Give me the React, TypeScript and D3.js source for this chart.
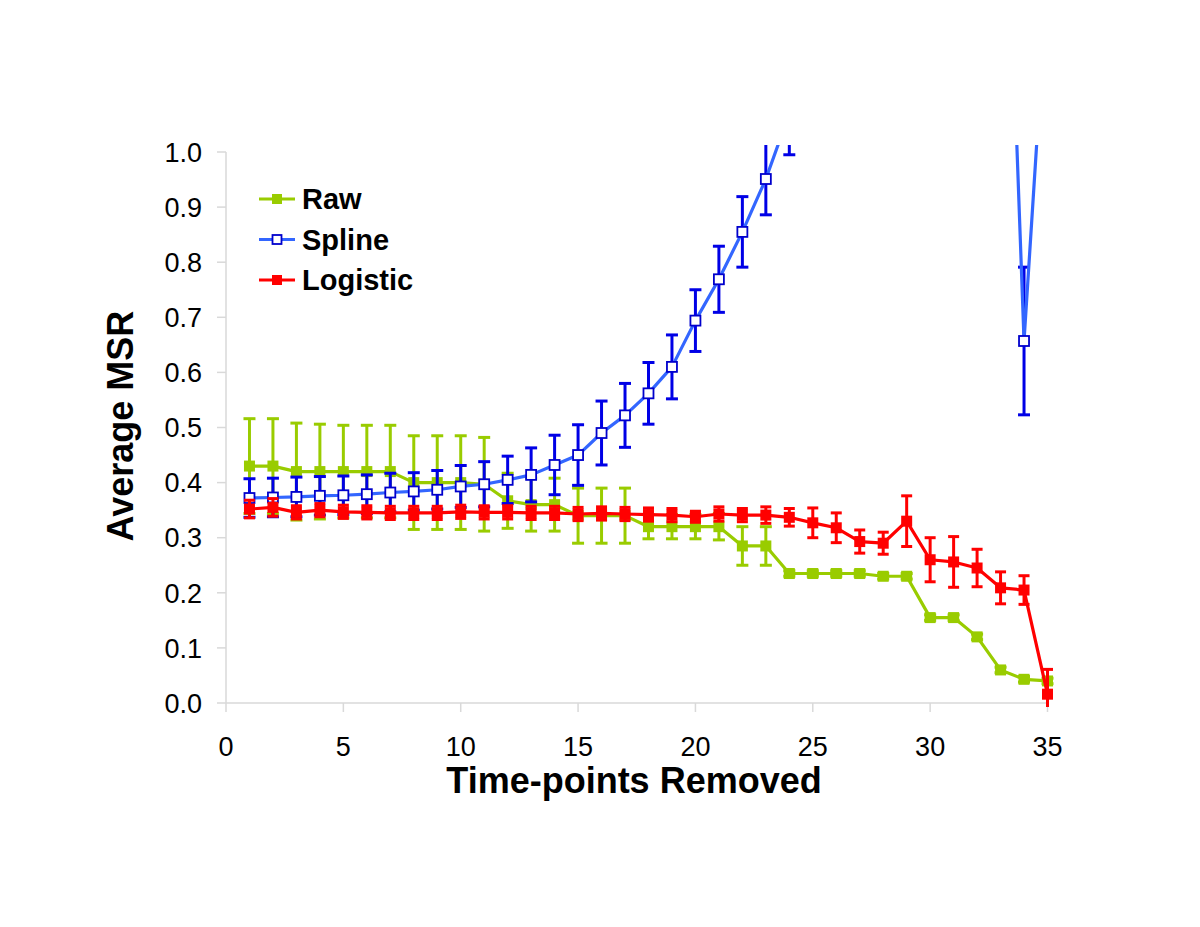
import React from "react";
import * as d3 from "d3";

const xs: number[] = Array.from({ length: 35 }, (_, i) => i + 1);

const rawVals = [0.43, 0.43, 0.42, 0.42, 0.42, 0.42, 0.42, 0.4, 0.4, 0.4, 0.397, 0.367, 0.36, 0.36, 0.34, 0.34, 0.34, 0.32, 0.32, 0.32, 0.32, 0.285, 0.285, 0.235, 0.235, 0.235, 0.235, 0.23, 0.23, 0.155, 0.155, 0.12, 0.06, 0.043, 0.04];
const rawErr = [0.086, 0.086, 0.088, 0.086, 0.084, 0.084, 0.084, 0.085, 0.085, 0.085, 0.085, 0.05, 0.048, 0.048, 0.05, 0.05, 0.05, 0.022, 0.022, 0.022, 0.024, 0.035, 0.035, 0.005, 0.005, 0.005, 0.005, 0.005, 0.005, 0.005, 0.005, 0.005, 0.005, 0.005, 0.005];

const splineVals = [0.372, 0.373, 0.374, 0.376, 0.377, 0.379, 0.382, 0.384, 0.387, 0.393, 0.397, 0.405, 0.414, 0.432, 0.45, 0.49, 0.522, 0.562, 0.61, 0.694, 0.769, 0.855, 0.951, 1.07, 1.25, 1.45, 1.7, 2.0, 2.3, 2.5, 2.3, 2.1, 1.82, 0.657, 1.32];
const splineErr = [0.035, 0.035, 0.036, 0.035, 0.035, 0.035, 0.035, 0.034, 0.035, 0.038, 0.041, 0.043, 0.049, 0.054, 0.055, 0.058, 0.058, 0.056, 0.058, 0.056, 0.06, 0.064, 0.065, 0.075, 0.12, 0.15, 0.2, 0.25, 0.3, 0.3, 0.3, 0.25, 0.2, 0.134, 0.2];

const logisticVals = [0.352, 0.355, 0.346, 0.35, 0.347, 0.346, 0.345, 0.345, 0.345, 0.347, 0.346, 0.346, 0.345, 0.345, 0.343, 0.344, 0.343, 0.342, 0.341, 0.338, 0.343, 0.341, 0.341, 0.337, 0.327, 0.318, 0.293, 0.29, 0.33, 0.26, 0.256, 0.245, 0.209, 0.205, 0.016];
const logisticErr = [0.016, 0.016, 0.012, 0.012, 0.012, 0.012, 0.012, 0.012, 0.012, 0.012, 0.012, 0.012, 0.012, 0.012, 0.012, 0.012, 0.012, 0.012, 0.012, 0.01, 0.013, 0.012, 0.015, 0.016, 0.027, 0.027, 0.021, 0.02, 0.046, 0.04, 0.046, 0.034, 0.029, 0.026, 0.045];

const xTicks = [0, 5, 10, 15, 20, 25, 30, 35];
const yTicks = [0, 0.1, 0.2, 0.3, 0.4, 0.5, 0.6, 0.7, 0.8, 0.9, 1.0];

const seriesNames = ["Raw", "Spline", "Logistic"];

const GREEN = "#99cc00";
const BLUE_LINE = "#3366ff";
const BLUE_DARK = "#0000e6";
const RED = "#ff0000";
const AXIS = "#d9d9d9";
const FONT = "Arial, 'Liberation Sans', Helvetica, sans-serif";

export default function App() {
  const W = 1200;
  const H = 927;
  const x = d3.scaleLinear().domain([0, 35]).range([226, 1047.5]);
  const y = d3.scaleLinear().domain([0, 1]).range([703, 152]);

  const mk = (vals: number[]) =>
    d3
      .line<number>()
      .x((_, i) => x(xs[i]))
      .y((v) => y(v))(vals) || "";

  const series = [
    { name: seriesNames[0], vals: rawVals, err: rawErr, line: GREEN, bar: GREEN, marker: "filled", mcolor: GREEN, cap: 12 },
    { name: seriesNames[1], vals: splineVals, err: splineErr, line: BLUE_LINE, bar: BLUE_DARK, marker: "open", mcolor: "#0000cc", cap: 12 },
    { name: seriesNames[2], vals: logisticVals, err: logisticErr, line: RED, bar: RED, marker: "filled", mcolor: RED, cap: 11 },
  ];

  const ms = 11;

  return (
    <svg
      width={W}
      height={H}
      style={{ display: "block", background: "#fff", position: "absolute", left: 0, top: 0 }}
      fontFamily={FONT}
    >
      <defs>
        <clipPath id="plotClip">
          <rect x={200} y={145} width={880} height={562} />
        </clipPath>
      </defs>
      {/* axes */}
      <line x1={x(0)} x2={x(0)} y1={y(1)} y2={y(0)} stroke={AXIS} strokeWidth={1.5} />
      <line x1={x(0)} x2={x(35)} y1={y(0)} y2={y(0)} stroke={AXIS} strokeWidth={1.5} />
      {yTicks.map((t) => (
        <g key={"y" + t}>
          <line x1={x(0) - 9} x2={x(0)} y1={y(t)} y2={y(t)} stroke={AXIS} strokeWidth={1.5} />
          <text x={202} y={y(t)} dy="0.36em" textAnchor="end" fontSize={27} fill="#000">
            {t.toFixed(1)}
          </text>
        </g>
      ))}
      {xTicks.map((t) => (
        <g key={"x" + t}>
          <line x1={x(t)} x2={x(t)} y1={y(0)} y2={y(0) + 9} stroke={AXIS} strokeWidth={1.5} />
          <text x={x(t)} y={756} textAnchor="middle" fontSize={27} fill="#000">
            {t}
          </text>
        </g>
      ))}
      <text x={634} y={793} textAnchor="middle" fontSize={36} fontWeight="bold" fill="#000">
        Time-points Removed
      </text>
      <text transform="translate(133,426) rotate(-90)" textAnchor="middle" fontSize={36} fontWeight="bold" fill="#000">
        Average MSR
      </text>

      <g clipPath="url(#plotClip)">
        {series.map((s) => (
          <g key={s.name}>
            {s.vals.map((v, i) => (
              <g key={i} stroke={s.bar} strokeWidth={3}>
                <line x1={x(xs[i])} x2={x(xs[i])} y1={y(v + s.err[i])} y2={y(v - s.err[i])} />
                <line x1={x(xs[i]) - s.cap / 2} x2={x(xs[i]) + s.cap / 2} y1={y(v + s.err[i])} y2={y(v + s.err[i])} />
                <line x1={x(xs[i]) - s.cap / 2} x2={x(xs[i]) + s.cap / 2} y1={y(v - s.err[i])} y2={y(v - s.err[i])} />
              </g>
            ))}
            <path d={mk(s.vals)} fill="none" stroke={s.line} strokeWidth={3.2} strokeLinejoin="round" />
            {s.vals.map((v, i) =>
              s.marker === "filled" ? (
                <rect key={"m" + i} x={x(xs[i]) - ms / 2} y={y(v) - ms / 2} width={ms} height={ms} fill={s.mcolor} />
              ) : (
                <rect key={"m" + i} x={x(xs[i]) - 5} y={y(v) - 5} width={10} height={10} fill="#fff" stroke={s.mcolor} strokeWidth={1.8} />
              )
            )}
          </g>
        ))}
      </g>

      {/* legend */}
      {series.map((s, i) => {
        const ly = 199 + i * 40.5;
        return (
          <g key={"leg" + s.name}>
            <line x1={259} x2={295} y1={ly} y2={ly} stroke={s.line} strokeWidth={3} />
            {s.marker === "filled" ? (
              <rect x={277 - 5} y={ly - 5} width={10} height={10} fill={s.mcolor} />
            ) : (
              <rect x={277 - 4.5} y={ly - 4.5} width={9} height={9} fill="#fff" stroke={s.mcolor} strokeWidth={1.8} />
            )}
            <text x={302} y={ly} dy="0.36em" fontSize={29} fontWeight="bold" fill="#000">
              {s.name}
            </text>
          </g>
        );
      })}
    </svg>
  );
}
